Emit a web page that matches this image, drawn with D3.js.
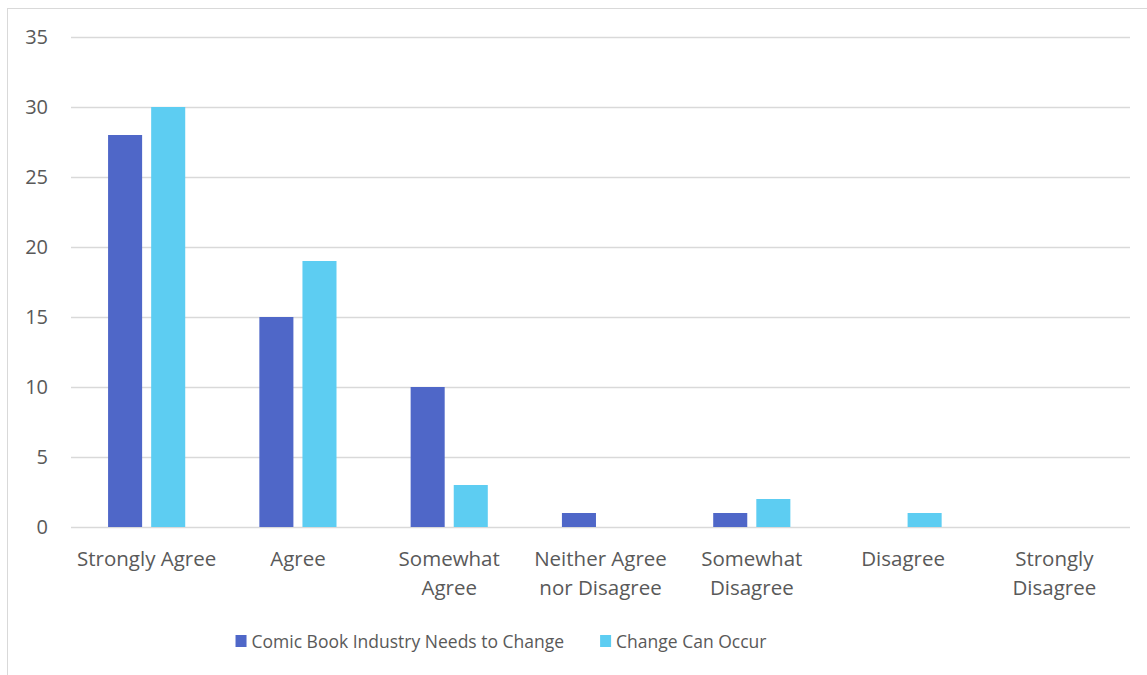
<!DOCTYPE html>
<html>
<head>
<meta charset="utf-8">
<script src="https://cdn.jsdelivr.net/npm/d3@7"></script>
<style>
  body { margin: 0; background: #fff; }
  svg { display: block; }
  text { font-family: "Open Sans", "Noto Sans", sans-serif; fill: #595959; }
</style>
</head>
<body>
<svg id="chart" width="1147" height="675"></svg>
<script>
// Survey responses by agreement level
const categories = [
  ["Strongly Agree"],
  ["Agree"],
  ["Somewhat", "Agree"],
  ["Neither Agree", "nor Disagree"],
  ["Somewhat", "Disagree"],
  ["Disagree"],
  ["Strongly", "Disagree"]
];
const seriesNames = ["Comic Book Industry Needs to Change", "Change Can Occur"];
const needsToChange = [28, 15, 10, 1, 1, 0, 0];
const canOccur = [30, 19, 3, 0, 2, 1, 0];
const yTicks = [0, 5, 10, 15, 20, 25, 30, 35];
const colors = ["#4F67C8", "#5DCDF2"];

const svg = d3.select("#chart");
const W = 1147, H = 675;

// outer frame
svg.append("rect")
  .attr("x", 7.5).attr("y", 8.5)
  .attr("width", W + 10).attr("height", H + 10)
  .attr("fill", "none").attr("stroke", "#d9d9d9").attr("stroke-width", 1);

const plot = { left: 71, right: 1130, top: 37, bottom: 527 };

const keys = categories.map((c, i) => i);
const x = d3.scaleBand().domain(keys).range([plot.left, plot.right]).paddingInner(0).paddingOuter(0);
const y = d3.scaleLinear().domain([0, 35]).range([plot.bottom, plot.top]);
const xs = d3.scaleBand().domain([0, 1]).range([0, x.bandwidth()]).paddingInner(0.21).paddingOuter(0.86);

// gridlines
svg.append("g").selectAll("line").data(yTicks).join("line")
  .attr("x1", plot.left).attr("x2", plot.right)
  .attr("y1", d => Math.round(y(d)) + 0.5).attr("y2", d => Math.round(y(d)) + 0.5)
  .attr("stroke", "#d9d9d9").attr("stroke-width", 1.3);

// y tick labels
svg.append("g").selectAll("text").data(yTicks).join("text")
  .attr("x", 48).attr("y", d => y(d))
  .attr("dy", "0.36em").attr("text-anchor", "end")
  .style("font-size", "20px")
  .text(d => d);

// bars
const series = [needsToChange, canOccur];
series.forEach((vals, si) => {
  svg.append("g").selectAll("rect").data(vals).join("rect")
    .attr("x", (d, i) => x(i) + xs(si))
    .attr("width", xs.bandwidth())
    .attr("y", d => y(d))
    .attr("height", d => y(0) - y(d))
    .attr("fill", colors[si]);
});

// category labels
const lab = svg.append("g").selectAll("text").data(categories).join("text")
  .attr("text-anchor", "middle")
  .style("font-size", "20.5px");
lab.each(function(lines, i) {
  const t = d3.select(this);
  lines.forEach((ln, j) => {
    t.append("tspan")
      .attr("x", x(i) + x.bandwidth() / 2)
      .attr("y", 566 + j * 29)
      .text(ln);
  });
});

// legend, laid out from measured text widths and centred
const swatch = 11, swGap = 5, itemGap = 36, legendCenter = 501;
const lg = svg.append("g");
const items = seriesNames.map((name, i) => {
  const g = lg.append("g");
  g.append("rect").attr("x", 0).attr("y", 635).attr("width", swatch).attr("height", 12)
    .attr("fill", colors[i]);
  const t = g.append("text").attr("x", swatch + swGap).attr("y", 648)
    .style("font-size", "17.5px").text(name);
  return { g, w: swatch + swGap + t.node().getComputedTextLength() };
});
const total = d3.sum(items, d => d.w) + itemGap * (items.length - 1);
let cx = legendCenter - total / 2;
items.forEach(it => {
  it.g.attr("transform", `translate(${cx},0)`);
  cx += it.w + itemGap;
});
</script>
</body>
</html>
